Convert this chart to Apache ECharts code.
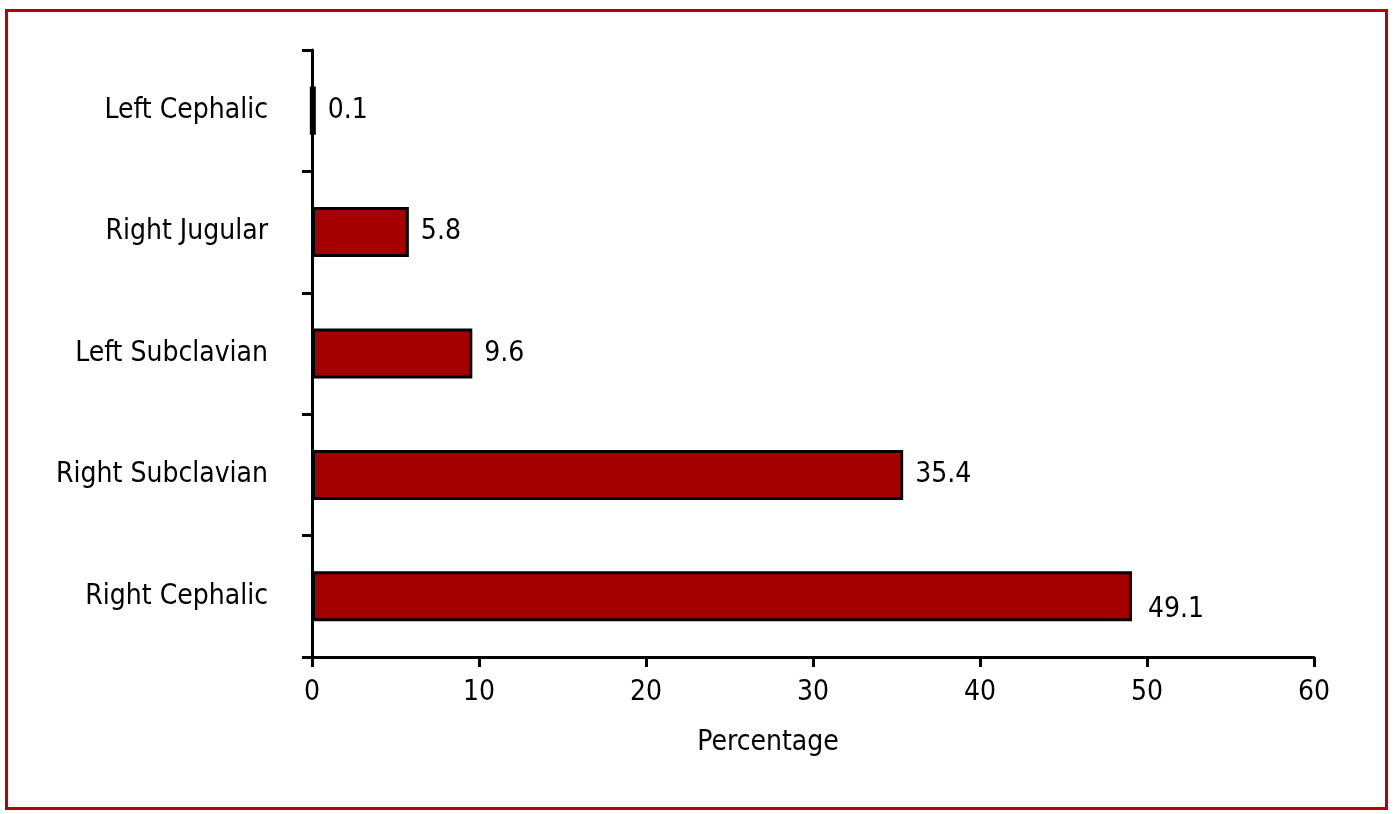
<!DOCTYPE html>
<html>
<head>
<meta charset="utf-8">
<script src="https://cdn.jsdelivr.net/npm/echarts@6/dist/echarts.min.js"></script>
<style>
html,body{margin:0;padding:0;background:#fff;}
#c{width:1396px;height:814px;}
</style>
</head>
<body>
<div id="c"></div>
<script>
const categories = ['Right Cephalic', 'Right Subclavian', 'Left Subclavian', 'Right Jugular', 'Left Cephalic'];
const values = [49.1, 35.4, 9.6, 5.8, 0.1];
const xTicks = [0, 10, 20, 30, 40, 50, 60];
const xAxisTitle = 'Percentage';

const FONT = '"Liberation Sans Narrow", "DejaVu Sans Condensed", "Arial Narrow", sans-serif';
const chart = echarts.init(document.getElementById('c'), null, {renderer: 'canvas'});
chart.setOption({
  animation: false,
  backgroundColor: '#fff',
  graphic: [{
    type: 'rect', left: 4, top: 8,
    shape: {width: 1380, height: 798},
    style: {fill: 'none', stroke: '#b5000f', lineWidth: 3}
  }],
  grid: {left: 312, right: 82, top: 50, bottom: 157},
  xAxis: {
    type: 'value', min: xTicks[0], max: xTicks[xTicks.length - 1], interval: 10,
    name: xAxisTitle, nameLocation: 'middle', nameGap: 72,
    nameTextStyle: {fontFamily: FONT, fontSize: 28, color: '#000', padding: [0, 90, 0, 0]},
    axisLine: {show: true, lineStyle: {color: '#000', width: 3}},
    axisTick: {show: true, length: 10, lineStyle: {color: '#000', width: 3}},
    axisLabel: {fontFamily: FONT, fontSize: 28, color: '#000', margin: 22},
    splitLine: {show: false}
  },
  yAxis: {
    type: 'category', data: categories,
    axisLine: {show: true, lineStyle: {color: '#000', width: 3}},
    axisTick: {show: true, length: 10, inside: false, lineStyle: {color: '#000', width: 3}},
    axisLabel: {fontFamily: FONT, fontSize: 28, color: '#000', margin: 44}
  },
  series: [{
    type: 'bar',
    data: values.map((v, i) => {
      if (i === 0) return {value: v, label: {offset: [4, 13]}};
      if (i === values.length - 1) return {value: v, itemStyle: {borderWidth: 6}};
      return v;
    }),
    barWidth: 50,
    itemStyle: {color: '#a50000', borderColor: '#000', borderWidth: 3},
    label: {
      show: true, position: 'right', distance: 12,
      fontFamily: FONT, fontSize: 28, color: '#000',
      formatter: p => p.value.toFixed(1)
    }
  }]
});
</script>
</body>
</html>
